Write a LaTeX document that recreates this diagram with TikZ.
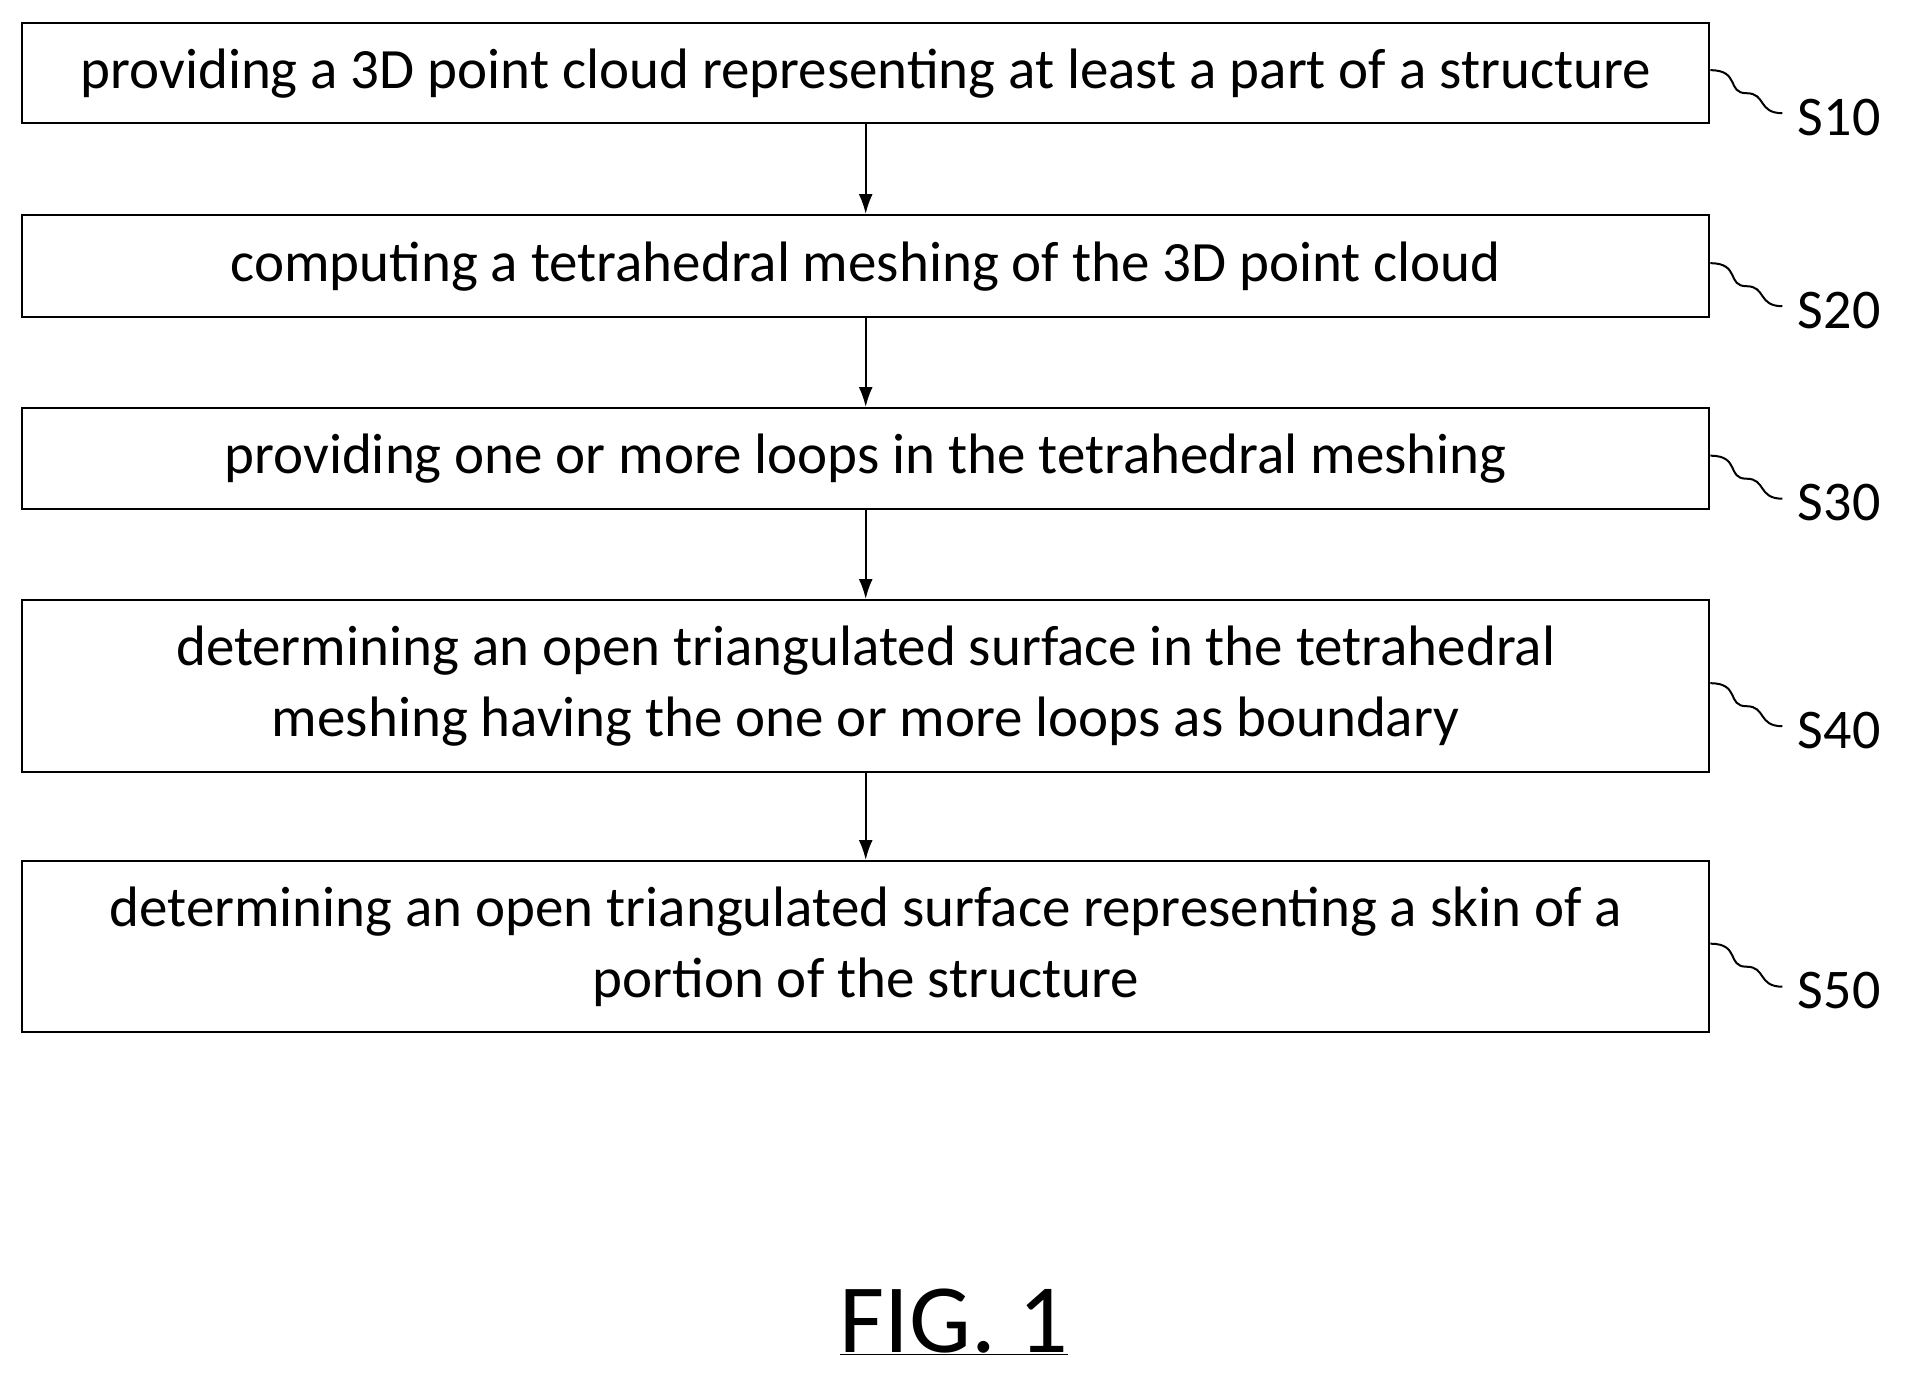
\documentclass[tikz,border=0pt]{standalone}
\usepackage{fontspec}
\setmainfont{Carlito}
\usetikzlibrary{arrows.meta,calc}
\begin{document}
\begin{tikzpicture}[x=1pt,y=-1pt,
  stepbox/.style={draw,line width=2.4pt,minimum width=1687pt,anchor=north west,inner sep=0pt,align=center,font=\fontsize{57}{71}\selectfont},
  lbl/.style={font=\fontsize{56}{60}\selectfont,anchor=west},
  arr/.style={line width=2pt,-{Latex[length=20pt,width=14pt]}},
  lead/.style={line width=2pt}]
\useasboundingbox (0,0) rectangle (1918,1394);
\node[stepbox,minimum height=100pt] (b1) at (21,22) {providing a 3D point cloud representing at least a part of a structure};
\node[stepbox,minimum height=102pt] (b2) at (21,214) {computing a tetrahedral meshing of the 3D point cloud};
\node[stepbox,minimum height=101pt] (b3) at (21,407) {providing one or more loops in the tetrahedral meshing};
\node[stepbox,minimum height=172pt] (b4) at (21,599) {determining an open triangulated surface in the tetrahedral\\meshing having the one or more loops as boundary};
\node[stepbox,minimum height=171pt] (b5) at (21,860) {determining an open triangulated surface representing a skin of a\\portion of the structure};
\foreach \a/\b in {b1/b2,b2/b3,b3/b4,b4/b5} \draw[arr] (\a.south) -- (\b.north);
\foreach \b/\t in {b1/S10,b2/S20,b3/S30,b4/S40,b5/S50}{
  \coordinate (s\t) at ($(\b.east)+(0,-3)$);
  \coordinate (e\t) at ($(\b.east)+(72,40)$);
  \draw[lead] (s\t) .. controls +(30,0) and +(-20,0) .. ($(\b.east)+(36,20)$) .. controls +(20,0) and +(-25,0) .. (e\t);
  \node[lbl] (l\t) at ($(e\t)+(12,4)$) {\t};
}
\node[font=\fontsize{98}{100}\selectfont] (fig) at (954,1322) {\underline{FIG. 1}};
\end{tikzpicture}
\end{document}
